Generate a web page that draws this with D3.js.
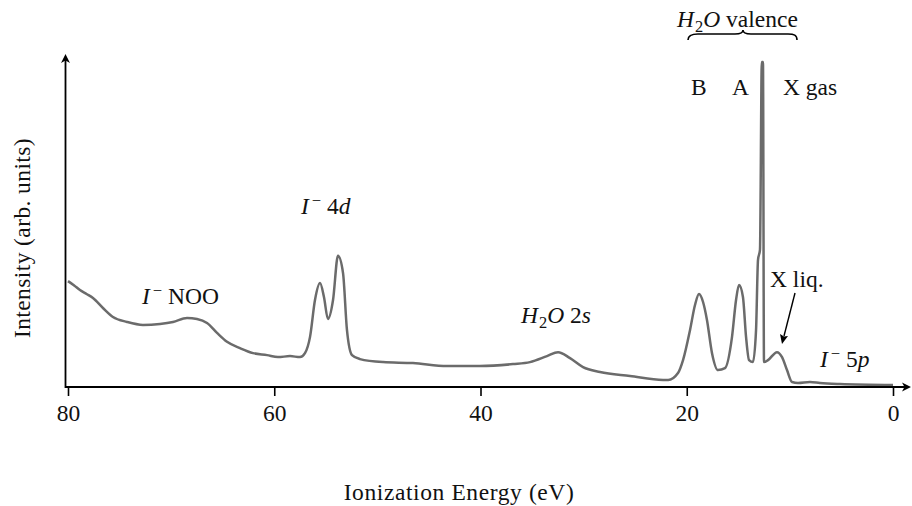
<!DOCTYPE html>
<html>
<head>
<meta charset="utf-8">
<script src="https://cdn.jsdelivr.net/npm/d3@7"></script>
<style>
  html, body { margin: 0; padding: 0; background: #fff; }
</style>
</head>
<body>
<svg id="chart" width="912" height="506"></svg>
<script>
// ---- data ----
const energy = [80.0, 79.4, 78.84, 78.2, 77.58, 76.61, 75.64, 74.28, 72.73, 71.08, 69.82, 68.46, 67.49, 66.52, 65.55, 64.58,
  63.32, 62.06, 60.70, 59.64, 58.47, 57.50, 57.02, 56.53, 56.05, 55.56, 55.18, 54.79, 54.30, 53.82, 53.33, 52.95,
  52.46, 51.69, 49.45, 46.55, 43.25, 40.05, 36.85, 35.20, 33.55, 32.48, 31.32, 30.06, 28.41, 25.50, 22.30, 21.80,
  20.85, 20.36, 19.68, 19.20, 18.81, 18.42, 18.04, 17.55, 16.97, 16.29, 15.61, 15.22, 14.93, 14.55, 14.25, 13.96,
  13.58, 13.28, 13.09, 12.90, 12.72, 12.61, 12.51, 12.12, 11.25, 10.76, 10.28, 9.79, 9.21, 8.05, 7.08, 5.14, 0.0];
const intensity = [31.9, 30.6, 29.2, 28.0, 26.8, 23.8, 21.1, 19.6, 18.7, 19.0, 19.6, 20.8, 20.5, 19.3, 16.3, 13.6,
  11.7, 10.2, 9.6, 9.0, 9.3, 9.0, 10.2, 15.1, 26.2, 31.3, 27.1, 20.5, 26.2, 39.5, 34.3, 17.2,
  9.6, 8.4, 7.5, 7.2, 6.3, 6.3, 6.9, 7.5, 9.3, 10.5, 8.7, 6.0, 4.5, 3.3, 2.1, 2.1,
  4.2, 8.1, 17.2, 24.7, 28.0, 25.6, 20.2, 10.2, 5.1, 5.7, 15.1, 26.2, 30.7, 27.1, 15.1, 8.1,
  7.5, 17.2, 38.3, 41.3, 97.9, 97.9, 7.5, 8.1, 10.5, 9.0, 5.1, 1.5, 1.2, 1.5, 1.2, 0.9, 0.6];
const xTicks = [80, 60, 40, 20, 0];
const xLabel = "Ionization Energy (eV)";
const yLabel = "Intensity (arb. units)";

const svg = d3.select("#chart");
const x = d3.scaleLinear().domain([80, 0]).range([68, 893]);
const y = d3.scaleLinear().domain([0, 100]).range([387, 55]);
const fs = 23.5;
const FONT = '"Liberation Serif"';

// spectrum
const pts = energy.map((e, i) => [e, intensity[i]]);
svg.append("path")
  .datum(pts)
  .attr("fill", "none")
  .attr("stroke", "#6b6b6b")
  .attr("stroke-width", 2.5)
  .attr("stroke-linejoin", "round")
  .attr("d", d3.line().x(d => x(d[0])).y(d => y(d[1])).curve(d3.curveMonotoneX));

// x axis
const xAxis = svg.append("g").attr("transform", "translate(0,387)")
  .call(d3.axisBottom(x).tickValues(xTicks).tickSize(9).tickPadding(8).tickFormat(d3.format("d")));
xAxis.attr("font-family", "Liberation Serif").attr("font-size", fs);
xAxis.select(".domain").remove();
xAxis.selectAll(".tick line").attr("stroke", "#000").attr("stroke-width", 1.6);
xAxis.selectAll(".tick text").style("font-family", FONT).style("font-size", fs + "px")
  .attr("fill", "#111");

// axis lines with arrows
svg.append("line").attr("x1", 65.5).attr("x2", 906).attr("y1", 387).attr("y2", 387)
  .attr("stroke", "#000").attr("stroke-width", 1.8);
svg.append("line").attr("x1", 65.5).attr("x2", 65.5).attr("y1", 388).attr("y2", 60)
  .attr("stroke", "#000").attr("stroke-width", 1.8);
svg.append("path").attr("d", "M911,387 L902,382.5 L904.5,387 L902,391.5 Z").attr("fill", "#000");
svg.append("path").attr("d", "M65.5,54 L61,63 L65.5,60.5 L70,63 Z").attr("fill", "#000");

// axis labels
svg.append("text").attr("x", 459).attr("y", 500).attr("text-anchor", "middle").attr("fill", "#111")
  .style("font-family", FONT).style("font-size", fs + "px").style("letter-spacing", "0.6px").text(xLabel);
svg.append("text").attr("transform", "translate(30,238) rotate(-90)").attr("text-anchor", "middle").attr("fill", "#111")
  .style("font-family", FONT).style("font-size", fs + "px").style("letter-spacing", "0.4px").text(yLabel);

// annotations
function ann(xp, yp, parts, anchor) {
  const t = svg.append("text").attr("x", xp).attr("y", yp).attr("text-anchor", anchor || "start").attr("fill", "#111")
    .style("font-family", FONT).style("font-size", fs + "px");
  parts.forEach(p => {
    const s = t.append("tspan").text(p.t);
    if (p.i) s.style("font-style", "italic");
    if (p.sup) s.attr("dx", 3).attr("dy", -8).style("font-size", (fs * 0.7) + "px");
    if (p.after) s.attr("dy", p.after);
    if (p.sub) s.attr("dx", 1).attr("dy", 5).style("font-size", (fs * 0.7) + "px");
  });
  return t;
}
ann(142, 304, [{t: "I", i: 1}, {t: "−", sup: 1}, {t: " NOO", after: 8}]);
ann(301, 214, [{t: "I", i: 1}, {t: "−", sup: 1}, {t: " 4", after: 8}, {t: "d", i: 1}]);
ann(521, 323, [{t: "H", i: 1}, {t: "2", sub: 1}, {t: "O", i: 1, after: -5}, {t: " 2"}, {t: "s", i: 1}]);
ann(677, 27, [{t: "H", i: 1}, {t: "2", sub: 1}, {t: "O", i: 1, after: -5}, {t: " valence"}]);
ann(691, 95, [{t: "B"}]);
ann(732, 95, [{t: "A"}]);
ann(783, 95, [{t: "X gas"}]);
ann(770, 287, [{t: "X liq."}]);
ann(820, 367, [{t: "I", i: 1}, {t: "−", sup: 1}, {t: " 5", after: 8}, {t: "p", i: 1}]);

// brace
svg.append("path")
  .attr("d", "M688,40 C688,35 692,34 698,34 L735,34 C740,34 743,33 743,30 C743,33 746,34 751,34 L788,34 C794,34 797,35 797,40")
  .attr("fill", "none").attr("stroke", "#000").attr("stroke-width", 1.6);

// X liq arrow
svg.append("line").attr("x1", 795).attr("y1", 293).attr("x2", 784).attr("y2", 336)
  .attr("stroke", "#000").attr("stroke-width", 1.4);
svg.append("path").attr("d", "M782,344 L780,334 L784,336.5 L788,336 Z").attr("fill", "#000");
</script>
</body>
</html>
